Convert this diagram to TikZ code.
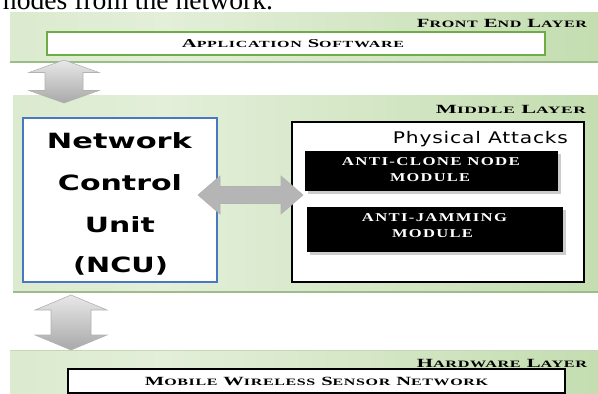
\documentclass[tikz,border=0pt]{standalone}
\usepackage{fontspec}
\usepackage{graphicx}
\setmainfont{Liberation Serif}
\newfontfamily\ncufont{DejaVu Sans}
\newfontfamily\attackfont{DejaVu Sans}[LetterSpace=4]
\newfontfamily\capsfont{Liberation Serif}[LetterSpace=4]
\newfontfamily\modfont{Liberation Serif}[LetterSpace=8]

% stretch a piece of text to a given width, keeping its height
\newcommand\fitw[2]{\resizebox{#1}{\height}{#2}}
% fake small capitals
\newcommand\smc[1]{\scalebox{0.78}{#1}}

\definecolor{bandL}{HTML}{CCE2BA}
\definecolor{bandM}{HTML}{E3EFD9}
\definecolor{bandR}{HTML}{AFD195}
\definecolor{bandEdge}{HTML}{9DBD88}
\definecolor{appGreen}{HTML}{6FAC46}
\definecolor{ncuBlue}{HTML}{4878C0}
\definecolor{modShadow}{HTML}{CCCCCC}

\pgfdeclarehorizontalshading{bandshade}{100bp}{color(0bp)=(bandL); color(38bp)=(bandM); color(100bp)=(bandR)}

\tikzset{
  band/.style={shading=bandshade, draw=none, inner sep=0pt, outer sep=0pt},
  bandline/.style={draw=bandEdge, line width=1.5pt},
  appbox/.style={draw=appGreen, line width=2.6pt, fill=white, inner sep=0pt, outer sep=0pt},
  ncubox/.style={draw=ncuBlue, line width=2.4pt, fill=white, inner sep=0pt, outer sep=0pt},
  plainbox/.style={draw=black, line width=1.4pt, fill=white, inner sep=0pt, outer sep=0pt},
  modbox/.style={fill=black, draw=none, inner sep=0pt, outer sep=0pt},
  lbl/.style={inner sep=0pt, outer sep=0pt},
  layerlbl/.style={lbl, anchor=base east, font=\capsfont\bfseries\fontsize{12.5}{13}\selectfont},
  boxlbl/.style={lbl, anchor=base, font=\capsfont\bfseries\fontsize{12}{13}\selectfont},
  ncutext/.style={lbl, anchor=base, font=\ncufont\bfseries\fontsize{21}{22}\selectfont},
  modtext/.style={lbl, anchor=base, text=white, font=\modfont\bfseries\fontsize{12}{13}\selectfont},
  varrowshade/.style={draw=gray!60, line width=0.6pt, top color=gray!18, bottom color=gray!68},
  harrowshade/.style={draw=gray!60, line width=0.6pt, left color=gray!58, middle color=gray!12, right color=gray!58},
}

% vertical double block arrow: #1 centre, #2 half length, #3 head half width,
% #4 shaft half width, #5 head length, #6 style
\newcommand\vblockarrow[6]{%
  \path[#6, shift={(#1)}]
    (0,-#2) -- (#3,-#2+#5) -- (#4,-#2+#5) -- (#4,#2-#5) -- (#3,#2-#5) -- (0,#2)
    -- (-#3,#2-#5) -- (-#4,#2-#5) -- (-#4,-#2+#5) -- (-#3,-#2+#5) -- cycle;}
% horizontal double block arrow, same parameters
\newcommand\hblockarrow[6]{%
  \path[#6, shift={(#1)}]
    (-#2,0) -- (-#2+#5,-#3) -- (-#2+#5,-#4) -- (#2-#5,-#4) -- (#2-#5,-#3) -- (#2,0)
    -- (#2-#5,#3) -- (#2-#5,#4) -- (-#2+#5,#4) -- (-#2+#5,#3) -- cycle;}

\begin{document}
\begin{tikzpicture}[x=1pt, y=-1pt]
\useasboundingbox (0,0) rectangle (598,394);
\clip (0,0) rectangle (598,394);

% running text above the figure
\node[lbl, anchor=base west, font=\fontsize{27.6}{30}\selectfont] (lead) at (3,9)
  {\fitw{270pt}{nodes from the network.}};

% layer bands
\node[band, minimum width=590pt, minimum height=50pt] (front) at (305,37) {};
\node[band, minimum width=587pt, minimum height=197pt] (middle) at (306.5,193.5) {};
\node[band, minimum width=590pt, minimum height=60pt] (hw) at (305,380) {};
\draw[bandline] (front.south west) -- (front.south east);
\draw[bandline] (middle.south west) -- (middle.south east);
\draw[draw=bandEdge!60, line width=0.8pt] (hw.north west) -- (hw.north east);

% front end layer
\node[layerlbl] (frontlbl) at (587,27) {\fitw{170pt}{F\smc{RONT} E\smc{ND} L\smc{AYER}}};
\node[appbox, minimum width=498pt, minimum height=23pt] (app) at (296,43.5) {};
\node[boxlbl] (applbl) at (293,47.5) {\fitw{222pt}{A\smc{PPLICATION} S\smc{OFTWARE}}};

% middle layer
\node[layerlbl] (midlbl) at (586,113) {\fitw{150pt}{M\smc{IDDLE} L\smc{AYER}}};
\node[ncubox, minimum width=194pt, minimum height=164pt] (ncu) at (120,200) {};
\node[ncutext] (ncu1) at (119.5,148) {\fitw{145pt}{Network}};
\node[ncutext] (ncu2) at (120,190) {\fitw{124pt}{Control}};
\node[ncutext] (ncu3) at (120,232) {\fitw{70pt}{Unit}};
\node[ncutext] (ncu4) at (120.5,272) {\fitw{95pt}{(NCU)}};

\node[plainbox, minimum width=292pt, minimum height=160pt] (phys) at (438,202) {};
\node[lbl, anchor=base east, font=\attackfont\fontsize{16}{17}\selectfont] (physlbl) at (568,143)
  {\fitw{175pt}{Physical Attacks}};

\fill[modShadow] (307.5,153.5) rectangle (561,194);
\node[modbox, minimum width=253pt, minimum height=40pt] (clone) at (431.5,171) {};
\node[modtext] (clone1) at (431,165) {\fitw{178pt}{ANTI-CLONE NODE}};
\node[modtext] (clone2) at (430,181) {\fitw{80pt}{MODULE}};

\fill[modShadow] (309.5,209.5) rectangle (566,255);
\node[modbox, minimum width=256pt, minimum height=45pt] (jam) at (435,229.5) {};
\node[modtext] (jam1) at (434.5,221) {\fitw{145pt}{ANTI-JAMMING}};
\node[modtext] (jam2) at (432.5,237) {\fitw{81pt}{MODULE}};

% hardware layer
\node[layerlbl] (hwlbl) at (587,367) {\fitw{170pt}{H\smc{ARDWARE} L\smc{AYER}}};
\node[plainbox, minimum width=497pt, minimum height=24pt] (mwsn) at (316.5,381) {};
\node[boxlbl, font=\capsfont\bfseries\fontsize{12.5}{13}\selectfont] (mwsnlbl) at (316.5,385)
  {\fitw{343pt}{M\smc{OBILE} W\smc{IRELESS} S\smc{ENSOR} N\smc{ETWORK}}};

% block arrows between the layers and between the units
\coordinate (upperlink) at (64,81.5);
\coordinate (lowerlink) at (71,322.5);
\coordinate (unitlink) at (250.5,195);
\vblockarrow{upperlink}{21.5}{35}{19}{12.5}{varrowshade}
\vblockarrow{lowerlink}{27.5}{36}{20}{15}{varrowshade}
\hblockarrow{unitlink}{52.5}{19}{8.5}{22}{harrowshade}
\end{tikzpicture}
\end{document}
